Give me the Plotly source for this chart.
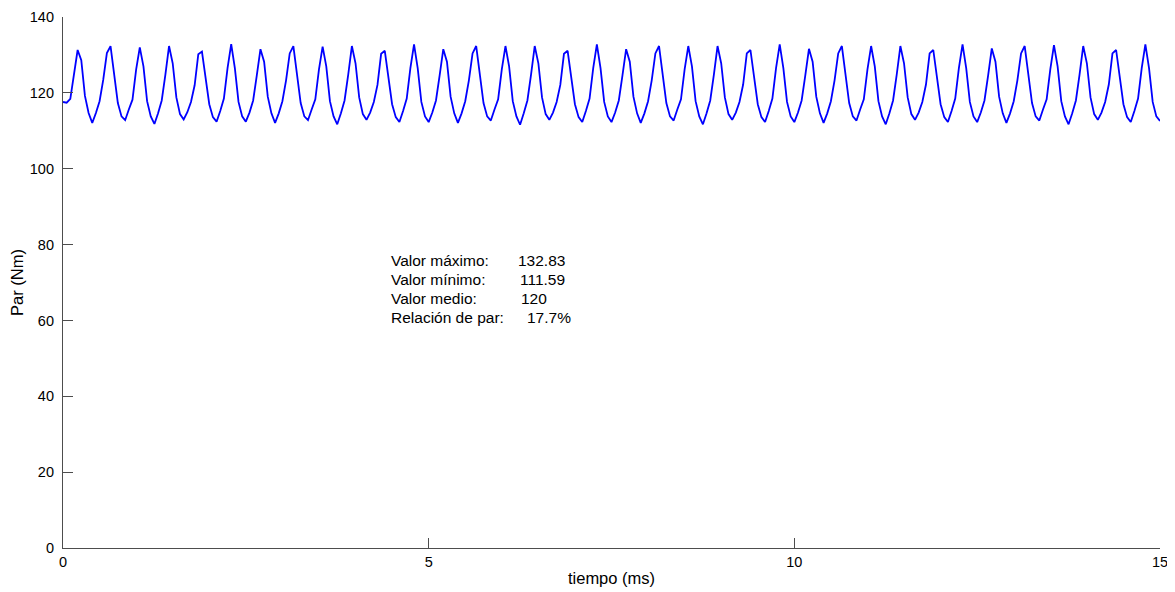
import plotly.graph_objects as go

par_bloque_1 = [117.6, 117.4, 118.4, 124.6, 131.3, 128.6, 119.2, 114.7, 112.1, 114.7,
                117.8, 123.4, 130.5, 132.3, 124.8, 117.3, 113.8, 112.8, 115.6, 118.2,
                126.1, 132.0, 127.0, 117.8, 113.8, 111.8, 114.6, 118.0, 124.8, 132.35,
                127.8, 118.8, 114.4, 113.0, 114.9, 117.6, 122.0, 130.2, 130.9, 124.0,
                117.0, 113.6, 112.4, 115.2, 118.5, 126.5, 132.83, 126.5, 117.6, 113.8]
par_bloque_2 = [112.4, 114.8, 118.0, 124.6, 131.5, 128.2, 119.0, 114.6, 112.1, 114.6,
                117.8, 123.3, 130.4, 132.3, 124.7, 117.3, 113.8, 112.8, 115.6, 118.3,
                126.2, 132.2, 127.0, 117.8, 113.8, 111.7, 114.6, 118.0, 124.8, 132.35,
                127.8, 118.8, 114.4, 112.9, 114.8, 117.6, 122.1, 130.3, 131.1, 124.0,
                117.0, 113.6, 112.3, 115.2, 118.5, 126.5, 132.8, 126.5, 117.6, 113.8]
par_bloque_3 = [112.3, 114.8, 118.0, 124.6, 131.5, 128.2, 119.0, 114.6, 112.1, 114.6,
                117.8, 123.3, 130.4, 132.35, 124.7, 117.3, 113.8, 112.7, 115.6, 118.3,
                126.2, 132.35, 127.0, 117.8, 113.8, 111.59, 114.6, 118.0, 124.8, 132.35,
                127.8, 118.8, 114.4, 112.9, 114.8, 117.6, 122.1, 130.3, 131.1, 124.0,
                117.0, 113.6, 112.3, 115.2, 118.5, 126.5, 132.8, 126.5, 117.6, 113.8]
par_bloque_4 = [112.3, 114.8, 118.0, 124.6, 131.5, 128.2, 119.0, 114.6, 112.1, 114.6,
                117.8, 123.3, 130.4, 132.35, 124.7, 117.3, 113.8, 112.7, 115.6, 118.3,
                126.2, 132.35, 127.0, 117.8, 113.8, 111.7, 114.6, 118.0, 124.8, 132.35,
                127.8, 118.8, 114.4, 112.9, 114.8, 117.6, 122.2, 130.4, 131.3, 124.0,
                117.0, 113.6, 112.3, 115.2, 118.5, 126.5, 132.8, 126.5, 117.6, 113.8]
par_bloque_5 = [112.3, 114.8, 118.0, 124.6, 131.6, 128.2, 119.0, 114.6, 112.1, 114.6,
                117.8, 123.3, 130.4, 132.35, 124.7, 117.3, 113.8, 112.7, 115.6, 118.3,
                126.2, 132.35, 127.0, 117.8, 113.8, 111.7, 114.6, 118.0, 124.8, 132.35,
                127.8, 118.8, 114.4, 112.9, 114.8, 117.6, 122.2, 130.4, 131.3, 124.0,
                117.0, 113.6, 112.3, 115.2, 118.5, 126.5, 132.8, 126.5, 117.6, 113.8]
par_bloque_6 = [112.3, 114.8, 118.0, 124.6, 131.7, 128.2, 119.0, 114.6, 112.1, 114.6,
                117.8, 123.3, 130.4, 132.35, 124.7, 117.3, 113.8, 112.7, 115.6, 118.3,
                126.2, 132.6, 127.0, 117.8, 113.8, 111.7, 114.6, 118.0, 124.8, 132.35,
                127.8, 118.8, 114.4, 112.9, 114.8, 117.6, 122.2, 130.4, 131.3, 124.0,
                117.0, 113.6, 112.3, 115.2, 118.5, 126.5, 132.8, 126.5, 117.6, 113.8,
                112.6]
paso_ms = 0.05

# Axis ticks
x_ticks = [0, 5, 10, 15]
y_ticks = [0, 20, 40, 60, 80, 100, 120, 140]

# Summary text
etiquetas = ["Valor máximo:", "Valor mínimo:", "Valor medio:", "Relación de par:"]
valores = ["132.83", "111.59", "120", "17.7%"]

par_nm = par_bloque_1 + par_bloque_2 + par_bloque_3 + par_bloque_4 + par_bloque_5 + par_bloque_6

FONT = "Arial, 'Liberation Sans', sans-serif"

fig = go.Figure()
fig.add_trace(go.Scatter(
    y=par_nm, x0=0, dx=paso_ms, mode="lines",
    line=dict(color="#0000ff", width=1.8),
    hoverinfo="skip", showlegend=False,
))

# text block placement (data coordinates)
lab_x = 4.46
val_x = [6.19, 6.22, 6.23, 6.32]
row_y = [75.9, 70.9, 65.9, 60.9]
for i, (lab, val) in enumerate(zip(etiquetas, valores)):
    fig.add_annotation(x=lab_x, y=row_y[i], text=lab, showarrow=False,
                       xanchor="left", yanchor="middle", xref="x", yref="y",
                       font=dict(family=FONT, size=15.5, color="#000000"))
    fig.add_annotation(x=val_x[i], y=row_y[i], text=val, showarrow=False,
                       xanchor="left", yanchor="middle", xref="x", yref="y",
                       font=dict(family=FONT, size=15.5, color="#000000"))

axis_common = dict(
    showgrid=False, zeroline=False, showline=True, linecolor="#4d4d4d", linewidth=1.2,
    ticks="inside", ticklen=10, tickcolor="#4d4d4d", tickwidth=1.2,
    tickfont=dict(family=FONT, size=14.5, color="#000000"), mirror=False,
    automargin=False,
)

# the page body has an 8px default margin, so the figure is sized to the visible area
fig.update_layout(
    width=1167, height=584,
    margin=dict(l=55, r=15, t=9, b=44),
    paper_bgcolor="white", plot_bgcolor="white",
    xaxis=dict(range=[0, 15], tickvals=x_ticks,
               title=dict(text="tiempo (ms)", font=dict(family=FONT, size=16.5, color="#000000"), standoff=3),
               **axis_common),
    yaxis=dict(range=[0, 140], tickvals=y_ticks, ticklabelstandoff=5,
               title=dict(text="Par (Nm)", font=dict(family=FONT, size=16.5, color="#000000"), standoff=4),
               **axis_common),
)

fig.write_html("out.html")
